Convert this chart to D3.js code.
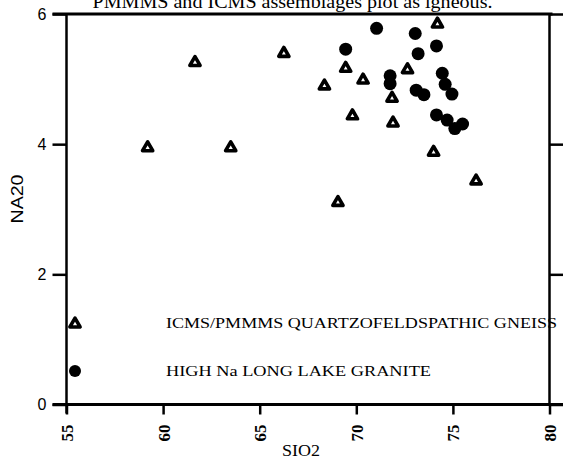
<!DOCTYPE html>
<html>
<head>
<meta charset="utf-8">
<script src="https://cdn.jsdelivr.net/npm/d3@7"></script>
<style>
  body { margin: 0; background: #fff; }
  svg { display: block; }
</style>
</head>
<body>
<div id="chart"></div>
<script>
// SiO2 vs Na2O scatter - gneiss (triangles) and granite (dots)

// Data
var gneissSiO2 = [59.2, 61.65, 63.5, 66.25, 68.35, 69.05, 69.45, 69.8, 70.35, 71.85, 71.9, 72.65, 74.0, 74.2, 76.2];
var gneissNa2O = [3.96, 5.27, 3.96, 5.41, 4.91, 3.12, 5.18, 4.45, 5.00, 4.72, 4.34, 5.16, 3.89, 5.86, 3.45];

var graniteSiO2 = [69.45, 71.05, 71.75, 71.75, 73.05, 73.2, 73.1, 73.5, 74.15, 74.45, 74.6, 74.95, 74.15, 74.7, 75.1, 75.5];
var graniteNa2O = [5.46, 5.78, 5.05, 4.93, 5.70, 5.39, 4.83, 4.76, 5.51, 5.09, 4.92, 4.77, 4.45, 4.37, 4.24, 4.31];

var xTicks = [55, 60, 65, 70, 75, 80];
var yTicks = [0, 2, 4, 6];

var legendLabels = ["ICMS/PMMMS QUARTZOFELDSPATHIC GNEISS", "HIGH Na LONG LAKE GRANITE"];
var titleText = "PMMMS and ICMS assemblages plot as igneous.";

// Sizes
var width = 563;
var height = 465;
var margin = { top: 14, left: 66.5, right: 13.5, bottom: 60.5 };
var plotW = width - margin.left - margin.right;
var plotH = height - margin.top - margin.bottom;

var svg = d3.select("#chart")
  .append("svg")
  .attr("width", width)
  .attr("height", height);

var g = svg.append("g")
  .attr("transform", "translate(" + margin.left + "," + margin.top + ")");

var x_scale = d3.scaleLinear().domain([55, 80]).range([0, plotW]);
var y_scale = d3.scaleLinear().domain([0, 6]).range([plotH, 0]);

// title, cut off by top of the page (as in the scan)
svg.append("text")
  .attr("x", 292.5)
  .attr("y", 7.5)
  .attr("text-anchor", "middle")
  .attr("textLength", 400)
  .attr("lengthAdjust", "spacingAndGlyphs")
  .style("font-family", "Liberation Serif, serif")
  .style("font-size", "19px")
  .text(titleText);

// frame lines (top and right)
g.append("line")
  .attr("x1", -14).attr("x2", plotW + 3)
  .attr("y1", 0).attr("y2", 0)
  .attr("stroke", "#000").attr("stroke-width", 3);

g.append("line")
  .attr("x1", plotW).attr("x2", plotW)
  .attr("y1", 0).attr("y2", plotH)
  .attr("stroke", "#000").attr("stroke-width", 2.5);

// left axis
var yaxis = d3.axisLeft(y_scale)
  .tickValues(yTicks)
  .tickFormat(d3.format("d"))
  .tickSize(14)
  .tickPadding(6);

var yg = g.append("g")
  .attr("class", "y axis")
  .call(yaxis);
yg.select(".domain").remove();
yg.selectAll(".tick line").attr("stroke", "#000").attr("stroke-width", 2.5);
yg.selectAll(".tick text")
  .style("font-family", "Liberation Sans, sans-serif")
  .style("font-size", "16px")
  .attr("fill", "#000");

g.append("line")
  .attr("x1", 0).attr("x2", 0)
  .attr("y1", 0).attr("y2", plotH + 9)
  .attr("stroke", "#000").attr("stroke-width", 2.5);

// right ticks pointing out
g.append("g")
  .attr("transform", "translate(" + plotW + ",0)")
  .call(d3.axisRight(y_scale).tickValues(yTicks).tickSize(14).tickFormat(""))
  .call(function(s) {
    s.select(".domain").remove();
    s.selectAll(".tick line").attr("stroke", "#000").attr("stroke-width", 2.5);
  });

// bottom axis
var xaxis = d3.axisBottom(x_scale)
  .tickValues(xTicks)
  .tickSize(10)
  .tickPadding(0);

var xg = g.append("g")
  .attr("transform", "translate(0," + plotH + ")")
  .call(xaxis);
xg.select(".domain").remove();
xg.selectAll(".tick line").attr("stroke", "#000").attr("stroke-width", 2.5);
xg.selectAll(".tick text")
  .attr("transform", "rotate(-90)")
  .attr("x", -20)
  .attr("y", 0)
  .attr("dy", "0.35em")
  .attr("text-anchor", "end")
  .attr("fill", "#000")
  .style("font-family", "Liberation Serif, serif")
  .style("font-size", "17px")
  .style("font-weight", "bold");

g.append("line")
  .attr("x1", -14).attr("x2", width - margin.left)
  .attr("y1", plotH).attr("y2", plotH)
  .attr("stroke", "#000").attr("stroke-width", 3);

// axis titles
svg.append("text")
  .attr("x", 301)
  .attr("y", 456)
  .attr("text-anchor", "middle")
  .attr("textLength", 38)
  .attr("lengthAdjust", "spacingAndGlyphs")
  .style("font-family", "Liberation Serif, serif")
  .style("font-size", "17px")
  .text("SIO2");

svg.append("text")
  .attr("transform", "translate(23,199) rotate(-90)")
  .attr("text-anchor", "middle")
  .attr("textLength", 49)
  .attr("lengthAdjust", "spacingAndGlyphs")
  .style("font-family", "Liberation Sans, sans-serif")
  .style("font-size", "17px")
  .text("NA20");

// markers
var triangle = d3.symbol().type(d3.symbolTriangle).size(45);

g.selectAll(".gneiss")
  .data(d3.range(gneissSiO2.length))
  .enter()
  .append("path")
  .attr("class", "gneiss")
  .attr("d", triangle)
  .attr("transform", function(i) {
    return "translate(" + x_scale(gneissSiO2[i]) + "," + (y_scale(gneissNa2O[i]) + 1) + ")";
  })
  .attr("fill", "#fff")
  .attr("stroke", "#000")
  .attr("stroke-width", 3.6)
  .attr("stroke-linejoin", "round");

g.selectAll(".granite")
  .data(d3.range(graniteSiO2.length))
  .enter()
  .append("circle")
  .attr("class", "granite")
  .attr("cx", function(i) { return x_scale(graniteSiO2[i]); })
  .attr("cy", function(i) { return y_scale(graniteNa2O[i]); })
  .attr("r", 6.5)
  .attr("fill", "#000");

// legend
var legend = g.append("g").attr("transform", "translate(8.5,309)");

legend.append("path")
  .attr("d", triangle)
  .attr("transform", "translate(0,1)")
  .attr("fill", "#fff")
  .attr("stroke", "#000")
  .attr("stroke-width", 3.6)
  .attr("stroke-linejoin", "round");

legend.append("circle")
  .attr("cx", 0)
  .attr("cy", 48)
  .attr("r", 6)
  .attr("fill", "#000");

legend.selectAll(".legend-label")
  .data(legendLabels)
  .enter()
  .append("text")
  .attr("class", "legend-label")
  .attr("x", 91)
  .attr("y", function(d, i) { return i * 48 + 5; })
  .attr("textLength", function(d, i) { return i == 0 ? 391 : 265; })
  .attr("lengthAdjust", "spacingAndGlyphs")
  .style("font-family", "Liberation Serif, serif")
  .style("font-size", "14px")
  .text(function(d) { return d; });
</script>
</body>
</html>
